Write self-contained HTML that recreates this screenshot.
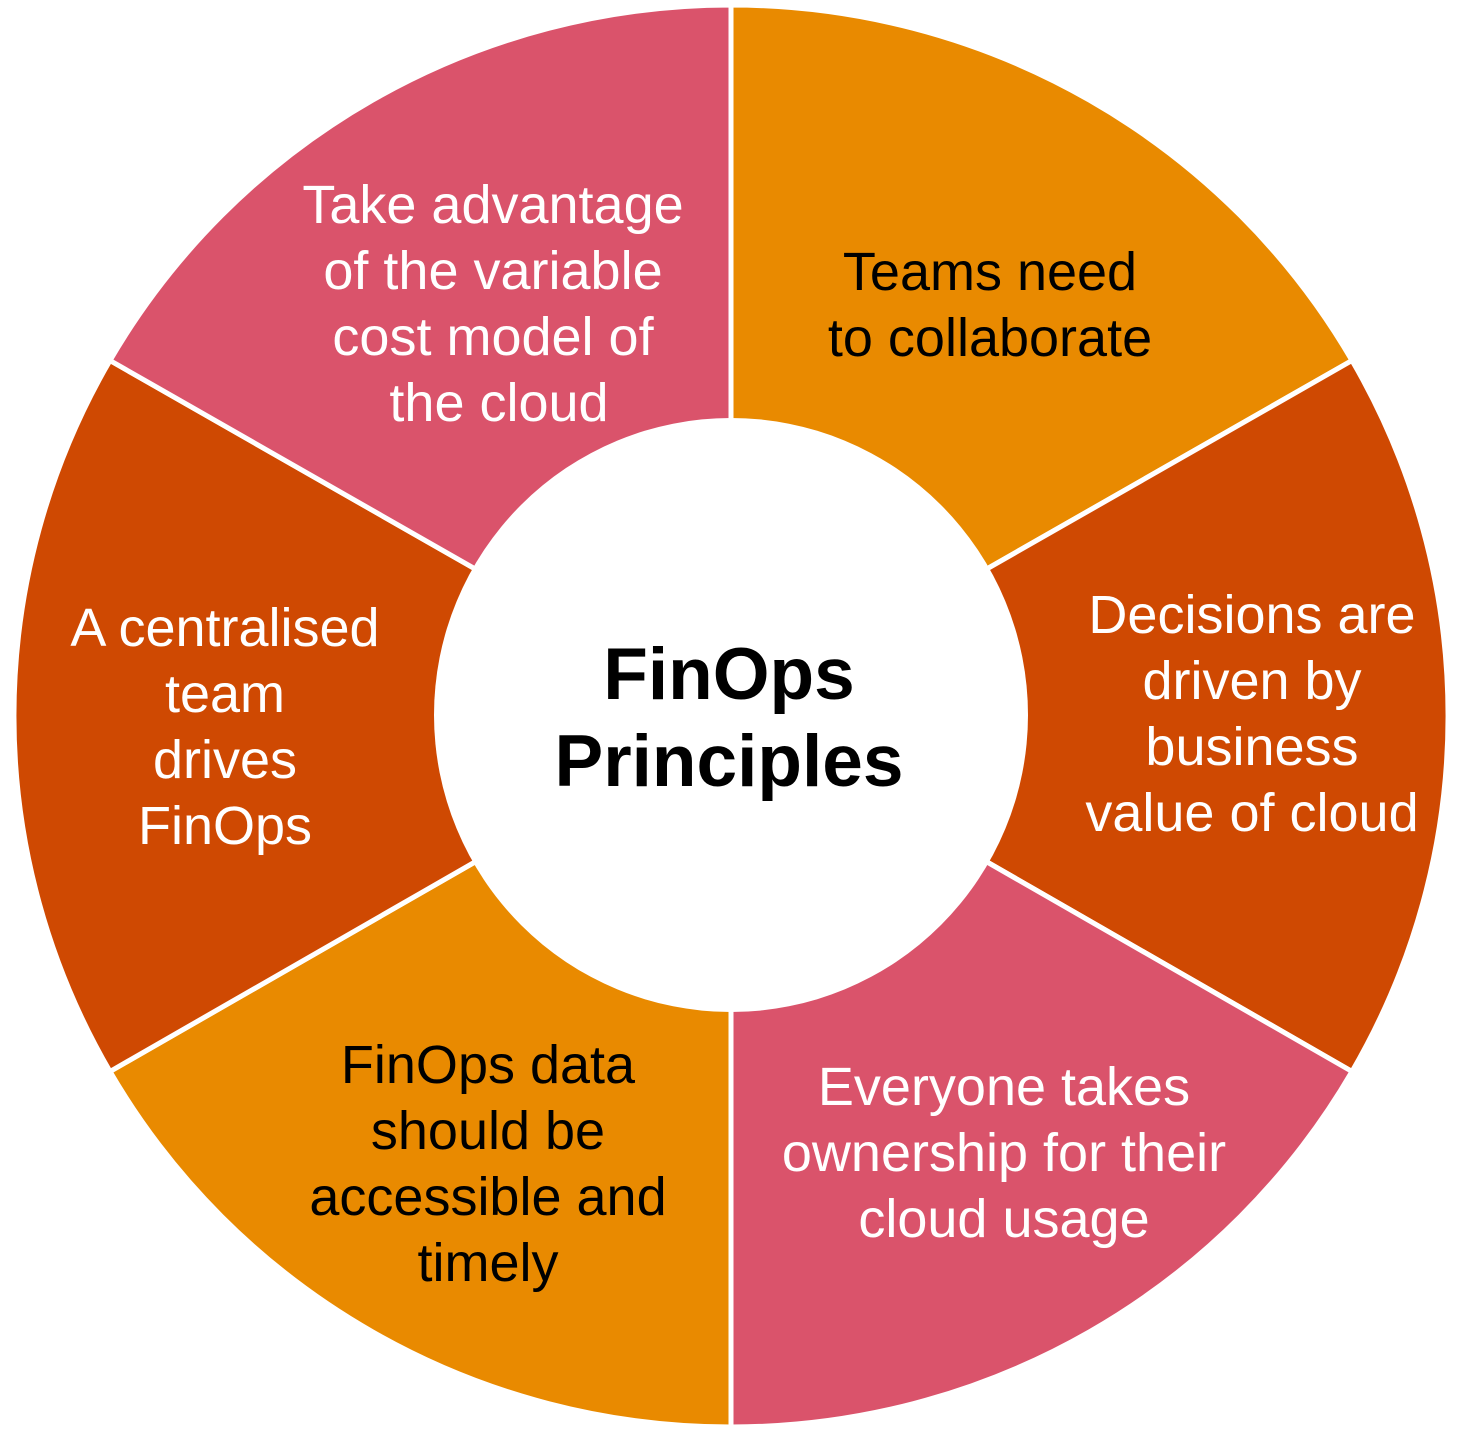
<!DOCTYPE html>
<html><head><meta charset="utf-8"><style>
html,body{margin:0;padding:0;background:#fff;}
svg{display:block;}
text{font-family:"Liberation Sans",Arial,sans-serif;font-size:54px;text-anchor:middle;}
.w{fill:#fff;}
.b{fill:#000;}
</style></head><body>
<svg width="1466" height="1432" viewBox="0 0 1466 1432" xmlns="http://www.w3.org/2000/svg">
<rect width="1466" height="1432" fill="#fff"/>
<g stroke="#fff" stroke-width="5" stroke-linejoin="miter">
<path d="M731,715 L731,5 A717,711 0 0 1 1352,360.5 Z" fill="#E98A00"/>
<path d="M731,715 L1352,360.5 A717,711 0 0 1 1352,1071.5 Z" fill="#CF4902"/>
<path d="M731,715 L1352,1071.5 A717,711 0 0 1 731,1427 Z" fill="#DA536B"/>
<path d="M731,715 L731,1427 A717,711 0 0 1 110,1071.5 Z" fill="#E98A00"/>
<path d="M731,715 L110,1071.5 A717,711 0 0 1 110,360.5 Z" fill="#CF4902"/>
<path d="M731,715 L110,360.5 A717,711 0 0 1 731,5 Z" fill="#DA536B"/>
</g>
<circle cx="731" cy="715" r="297" fill="#fff"/>

<text class="b" x="990" y="290">Teams need</text>
<text class="b" x="990" y="356">to collaborate</text>

<text class="w" x="493" y="223">Take advantage</text>
<text class="w" x="493" y="289">of the variable</text>
<text class="w" x="493" y="355">cost model of</text>
<text class="w" x="499" y="421">the cloud</text>

<text class="w" x="225" y="646">A centralised</text>
<text class="w" x="225" y="712">team</text>
<text class="w" x="225" y="778">drives</text>
<text class="w" x="225" y="844">FinOps</text>

<text class="w" x="1252" y="633">Decisions are</text>
<text class="w" x="1252" y="699">driven by</text>
<text class="w" x="1252" y="765">business</text>
<text class="w" x="1252" y="831">value of cloud</text>

<text class="w" x="1004" y="1105">Everyone takes</text>
<text class="w" x="1004" y="1171">ownership for their</text>
<text class="w" x="1004" y="1237">cloud usage</text>

<text class="b" x="488" y="1083">FinOps data</text>
<text class="b" x="488" y="1149">should be</text>
<text class="b" x="488" y="1215">accessible and</text>
<text class="b" x="488" y="1281">timely</text>

<text class="b" x="729" y="699" style="font-size:73px;font-weight:bold;">FinOps</text>
<text class="b" x="729" y="786" style="font-size:73px;font-weight:bold;">Principles</text>
</svg>
</body></html>
